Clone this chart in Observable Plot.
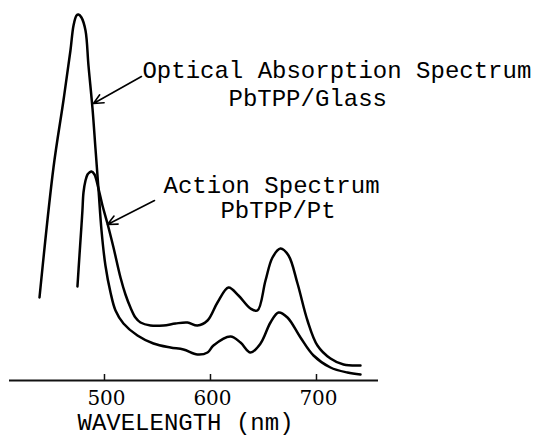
<!DOCTYPE html>
<html>
<head>
<meta charset="utf-8">
<script src="https://cdn.jsdelivr.net/npm/d3@7"></script>
<script src="https://cdn.jsdelivr.net/npm/@observablehq/plot@0.6"></script>
<style>
  html, body { margin: 0; padding: 0; background: #fff; }
  #chart svg { display: block; }
</style>
</head>
<body>
<div id="chart"></div>
<script>
// Optical absorption spectrum, PbTPP/Glass (relative units)
const opticalWavelength = [438.7, 451.9, 461.3, 467.9, 470.8, 473.6, 475.5, 478.3, 482.1, 484.9,
  488.7, 491.5, 494.3, 497.2, 500.9, 505.7, 510.4, 517.9, 531.1, 546.2,
  562.3, 574.5, 587.7, 597.2, 602.8, 618.9, 628.3, 637.7, 647.2, 656.6,
  664.2, 672.6, 684.9, 697.2, 713.2, 729.2, 741.5];
const opticalValue = [83, 213, 280, 330, 355, 365, 366, 363, 350, 315,
  272, 232, 192, 150, 115, 88, 70, 57, 45, 37,
  33, 31, 26, 28, 35, 44, 38, 28, 37, 58,
  68, 63, 43, 25, 13, 8, 6];

// Action spectrum, PbTPP/Pt (relative units)
const actionWavelength = [474.5, 476.4, 478.3, 479.2, 480.2, 482.1, 484.0, 485.8, 487.7, 490.6,
  494.3, 498.1, 502.8, 508.5, 515.1, 519.8, 524.5, 529.2, 534.0, 543.4,
  555.7, 567.0, 578.3, 587.7, 597.2, 606.6, 617.0, 626.4, 637.7, 644.3,
  651.9, 658.5, 666.0, 673.6, 682.1, 691.5, 700.9, 713.2, 725.5, 741.5];
const actionValue = [94, 125, 155, 170, 188, 200, 206, 208, 209, 206,
  192, 175, 157, 133, 103, 86, 73, 63, 58, 55,
  55, 57, 58, 55, 60, 78, 93, 85, 72, 70,
  100, 123, 132, 125, 97, 60, 35, 22, 16, 15];

const tickValues = [500, 600, 700];
const xLabel = "WAVELENGTH (nm)";

const labelTexts = ["Optical Absorption Spectrum", "PbTPP/Glass", "Action Spectrum", "PbTPP/Pt"];
const labelX = [535.8, 617.0, 555.7, 609.4];
const labelY = [320, 292, 205, 180];
const labels = labelTexts.map((text, i) => ({text, x: labelX[i], y: labelY[i]}));

const arrows = [
  {x1: 534.9, y1: 304, x2: 489.6, y2: 277},
  {x1: 547.2, y1: 180, x2: 502.8, y2: 156}
];

const optical = opticalWavelength.map((w, i) => ({w, v: opticalValue[i]}));
const action = actionWavelength.map((w, i) => ({w, v: actionValue[i]}));

const mono = "'Liberation Mono', 'Courier New', monospace";
const serif = "'DejaVu Serif', serif";

const chart = Plot.plot({
  width: 537,
  height: 435,
  marginLeft: 9,
  marginRight: 159,
  marginTop: 0,
  marginBottom: 55,
  style: {fontFamily: mono, background: "#fff", color: "#000", overflow: "visible"},
  x: {domain: [410.4, 758.5]},
  y: {domain: [0, 380], axis: null},
  marks: [
    Plot.axisX({ticks: tickValues, tickSize: 0, tickPadding: 10, fontSize: 20, fontFamily: serif, label: null, dx: 2}),
    Plot.ruleY([0], {stroke: "#111", strokeWidth: 1.8}),
    Plot.ruleX(tickValues, {y1: 0, y2: 6, stroke: "#111", strokeWidth: 1.5}),
    Plot.line(optical, {x: "w", y: "v", curve: "catmull-rom", stroke: "#000", strokeWidth: 2.5}),
    Plot.line(action, {x: "w", y: "v", curve: "catmull-rom", stroke: "#000", strokeWidth: 2.5}),
    Plot.arrow(arrows, {x1: "x1", y1: "y1", x2: "x2", y2: "y2", stroke: "#000", strokeWidth: 1.6, headLength: 10, headAngle: 50}),
    Plot.text(labels, {x: "x", y: "y", text: "text", fontSize: 24, fontFamily: mono, lineAnchor: "top", textAnchor: "start", fill: "#000"}),
    Plot.text([xLabel], {frameAnchor: "bottom-left", dx: 68, dy: 32, lineAnchor: "top", textAnchor: "start", fontSize: 24, fontFamily: mono, fill: "#000"})
  ]
});
document.getElementById("chart").appendChild(chart);
</script>
</body>
</html>
